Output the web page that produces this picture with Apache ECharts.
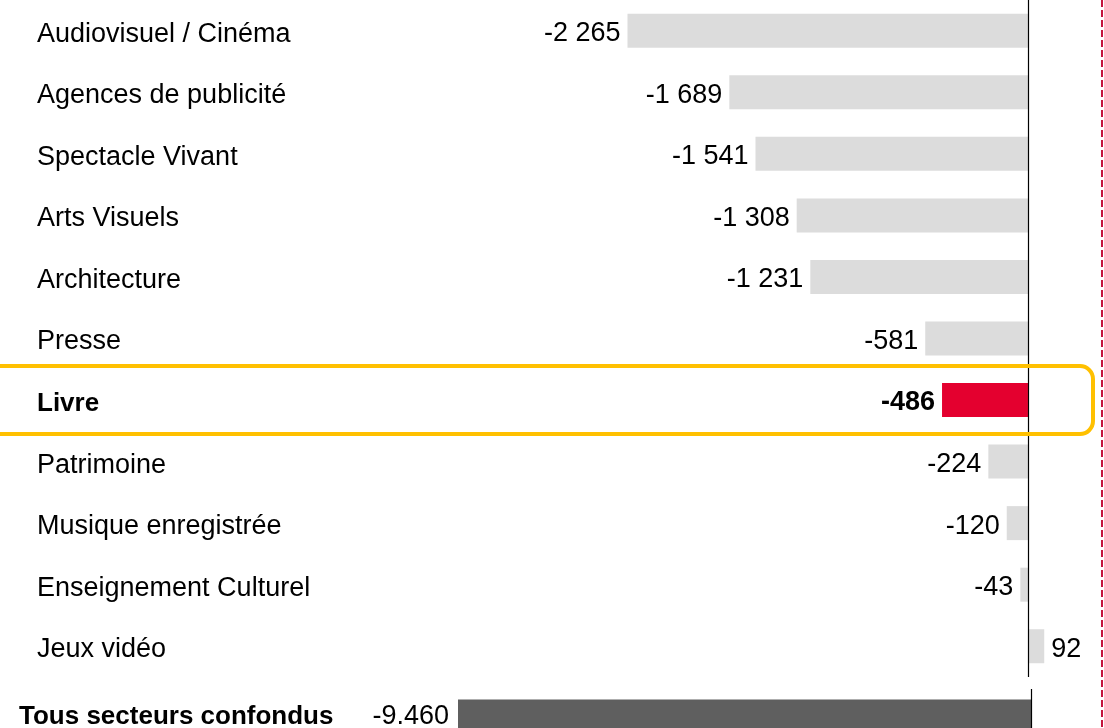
<!DOCTYPE html>
<html>
<head>
<meta charset="utf-8">
<script src="https://cdn.jsdelivr.net/npm/echarts@6/dist/echarts.min.js"></script>
<style>
html,body{margin:0;padding:0;background:#fff;overflow:hidden;width:1104px;height:728px;}
#chart{width:1104px;height:760px;}
</style>
</head>
<body>
<div id="chart"></div>
<script>
const categories = ['Audiovisuel / Cinéma','Agences de publicité','Spectacle Vivant','Arts Visuels','Architecture','Presse','Livre','Patrimoine','Musique enregistrée','Enseignement Culturel','Jeux vidéo'];
const values = [-2265,-1689,-1541,-1308,-1231,-581,-486,-224,-120,-43,92];
const highlightCategory = 'Livre';
const totalCategory = ['Tous secteurs confondus'];
const totalValues = [-9460];

const FONT = '"Liberation Sans", Arial, sans-serif';
const FS = 27;
const PAD = [7, 0, 0, 0];

function fmt(v, sep) {
  const s = Math.abs(v).toString().replace(/\B(?=(\d{3})+(?!\d))/g, sep);
  return (v < 0 ? '-' : '') + s;
}

const mainData = values.map((v, i) => {
  const hl = categories[i] === highlightCategory;
  return {
    value: v,
    itemStyle: { color: hl ? '#e4002f' : '#dcdcdc' },
    label: {
      position: v < 0 ? 'left' : 'right',
      fontWeight: hl ? 'bold' : 'normal'
    }
  };
});

const chart = echarts.init(document.getElementById('chart'), null, { renderer: 'canvas' });
const option = {
  animation: false,
  backgroundColor: '#ffffff',
  textStyle: { fontFamily: FONT },
  grid: [
    { left: 29, right: 23, top: 0, height: 677 },
    { left: 12, right: 23, top: 689, height: 56 }
  ],
  xAxis: [
    { gridIndex: 0, type: 'value', min: -5650, max: 300, show: false },
    { gridIndex: 1, type: 'value', min: -16823, max: 825, show: false }
  ],
  yAxis: [
    {
      gridIndex: 0, type: 'category', data: categories, inverse: true,
      axisLine: { show: false }, axisTick: { show: false }, splitLine: { show: false },
      axisLabel: {
        inside: true, margin: 8, fontSize: FS, color: '#000', fontFamily: FONT, padding: PAD,
        formatter: (v) => v === highlightCategory ? '{b|' + v + '}' : v,
        rich: { b: { fontWeight: 'bold', fontSize: 26, color: '#000', fontFamily: FONT } }
      }
    },
    {
      gridIndex: 1, type: 'category', data: totalCategory, inverse: true,
      axisLine: { show: false }, axisTick: { show: false }, splitLine: { show: false },
      axisLabel: {
        inside: true, margin: 7, fontSize: 26, fontWeight: 'bold', color: '#000', fontFamily: FONT, padding: [2, 0, 0, 0]
      }
    }
  ],
  series: [
    {
      type: 'bar', xAxisIndex: 0, yAxisIndex: 0, barWidth: 34,
      data: mainData,
      label: {
        show: true, distance: 7, fontSize: FS, color: '#000', fontFamily: FONT, offset: [0, 3],
        formatter: (p) => fmt(p.value, ' ')
      },
      markLine: {
        silent: true, symbol: ['none', 'none'], label: { show: false },
        lineStyle: { color: '#000', width: 1.2, type: 'solid' },
        data: [{ xAxis: 0 }]
      }
    },
    {
      type: 'bar', xAxisIndex: 1, yAxisIndex: 1, barWidth: 35,
      data: totalValues,
      itemStyle: { color: '#5f5f5f' },
      label: {
        show: true, position: 'left', distance: 9, fontSize: FS, color: '#000', fontFamily: FONT, offset: [0, 0],
        formatter: (p) => fmt(p.value, '.')
      },
      markLine: {
        silent: true, symbol: ['none', 'none'], label: { show: false },
        lineStyle: { color: '#000', width: 1.2, type: 'solid' },
        data: [{ xAxis: 0 }]
      }
    }
  ]
};
chart.setOption(option);

const cy = chart.convertToPixel({ yAxisIndex: 0 }, highlightCategory);
chart.setOption({
  graphic: [
    {
      type: 'rect', silent: true, z: 100,
      shape: { x: -20, y: cy - 34, width: 1113, height: 68, r: 13 },
      style: { fill: null, stroke: '#ffc000', lineWidth: 4 }
    },
    {
      type: 'line', silent: true, z: 100,
      shape: { x1: 1102, y1: 0, x2: 1102, y2: 760 },
      style: { stroke: '#c4143c', lineWidth: 2, lineDash: [7, 3] }
    }
  ]
});
</script>
</body>
</html>
